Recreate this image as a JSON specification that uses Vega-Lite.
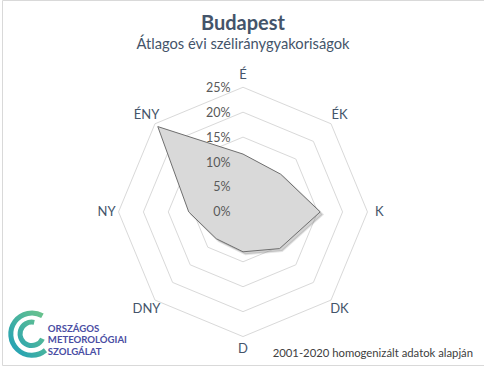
{
  "$schema": "https://vega.github.io/schema/vega-lite/v6.json",
  "width": 484,
  "height": 366,
  "autosize": {"type": "fit", "contains": "padding"},
  "padding": 0,
  "background": "#ffffff",
  "config": {
    "view": {"stroke": "#d9d9d9", "strokeWidth": 1},
    "font": "Lato"
  },
  "title": {
    "text": "Budapest",
    "subtitle": "Átlagos évi széliránygyakoriságok",
    "anchor": "middle",
    "frame": "group",
    "font": "Lato",
    "fontSize": 20,
    "fontWeight": "bold",
    "color": "#44546a",
    "subtitleFont": "Lato",
    "subtitleFontSize": 14.7,
    "subtitleColor": "#44546a",
    "subtitlePadding": 3,
    "offset": -52
  },
  "datasets": {
    "wind": [
      {"dir": "É", "deg": 0, "value": 0.116},
      {"dir": "ÉK", "deg": 45, "value": 0.107},
      {"dir": "K", "deg": 90, "value": 0.155},
      {"dir": "DK", "deg": 135, "value": 0.104},
      {"dir": "D", "deg": 180, "value": 0.080},
      {"dir": "DNY", "deg": 225, "value": 0.076},
      {"dir": "NY", "deg": 270, "value": 0.109},
      {"dir": "ÉNY", "deg": 315, "value": 0.242}
    ],
    "grid": [
      {"deg": 0, "rings": [0.05, 0.10, 0.15, 0.20, 0.25]},
      {"deg": 45, "rings": [0.05, 0.10, 0.15, 0.20, 0.25]},
      {"deg": 90, "rings": [0.05, 0.10, 0.15, 0.20, 0.25]},
      {"deg": 135, "rings": [0.05, 0.10, 0.15, 0.20, 0.25]},
      {"deg": 180, "rings": [0.05, 0.10, 0.15, 0.20, 0.25]},
      {"deg": 225, "rings": [0.05, 0.10, 0.15, 0.20, 0.25]},
      {"deg": 270, "rings": [0.05, 0.10, 0.15, 0.20, 0.25]},
      {"deg": 315, "rings": [0.05, 0.10, 0.15, 0.20, 0.25]}
    ]
  },
  "layer": [
    {
      "data": {"name": "grid"},
      "transform": [
        {"flatten": ["rings"], "as": ["ring"]},
        {"calculate": "datum.ring * sin(datum.deg * PI / 180)", "as": "gx"},
        {"calculate": "datum.ring * cos(datum.deg * PI / 180)", "as": "gy"}
      ],
      "mark": {"type": "line", "interpolate": "linear-closed", "stroke": "#d9d9d9", "strokeWidth": 1},
      "encoding": {
        "x": {"field": "gx", "type": "quantitative", "scale": {"domain": [-0.484, 0.484], "nice": false, "zero": false}, "axis": null},
        "y": {"field": "gy", "type": "quantitative", "scale": {"domain": [-0.307, 0.425], "nice": false, "zero": false},
              "axis": {"orient": "left", "zindex": 1, "values": [0, 0.05, 0.1, 0.15, 0.2, 0.25], "format": ".0%", "domain": false, "ticks": false, "tickSize": 0, "grid": false, "labelPadding": 0, "offset": -228, "labelFont": "Lato", "labelFontSize": 12.5, "labelColor": "#595959", "title": null}},
        "detail": {"field": "ring", "type": "nominal"},
        "order": {"field": "deg", "type": "quantitative"}
      }
    },
    {
      "data": {"name": "wind"},
      "transform": [
        {"calculate": "datum.value * sin(datum.deg * PI / 180) + 0.005", "as": "sx"},
        {"calculate": "datum.value * cos(datum.deg * PI / 180) - 0.005", "as": "sy"}
      ],
      "mark": {"type": "line", "interpolate": "linear-closed", "fill": "#7f7f7f", "fillOpacity": 0.35, "stroke": "#7f7f7f", "strokeOpacity": 0.2, "strokeWidth": 2},
      "encoding": {
        "x": {"field": "sx", "type": "quantitative"},
        "y": {"field": "sy", "type": "quantitative"},
        "order": {"field": "deg", "type": "quantitative"}
      }
    },
    {
      "data": {"name": "wind"},
      "transform": [
        {"calculate": "datum.value * sin(datum.deg * PI / 180)", "as": "px"},
        {"calculate": "datum.value * cos(datum.deg * PI / 180)", "as": "py"}
      ],
      "mark": {"type": "line", "interpolate": "linear-closed", "fill": "#d9d9d9", "stroke": "#6f6f6f", "strokeWidth": 1},
      "encoding": {
        "x": {"field": "px", "type": "quantitative"},
        "y": {"field": "py", "type": "quantitative"},
        "order": {"field": "deg", "type": "quantitative"}
      }
    },
    {
      "data": {"name": "wind"},
      "transform": [
        {"calculate": "0.274 * sin(datum.deg * PI / 180)", "as": "lx"},
        {"calculate": "0.274 * cos(datum.deg * PI / 180)", "as": "ly"}
      ],
      "mark": {"type": "text", "align": "center", "baseline": "middle", "font": "Lato", "fontSize": 13, "fill": "#44546a"},
      "encoding": {
        "x": {"field": "lx", "type": "quantitative"},
        "y": {"field": "ly", "type": "quantitative"},
        "text": {"field": "dir"}
      }
    },
    {
      "data": {"values": [{"note": "2001-2020 homogenizált adatok alapján"}]},
      "mark": {"type": "text", "align": "right", "baseline": "middle", "font": "Lato", "fontSize": 11.3, "fill": "#404040"},
      "encoding": {
        "x": {"datum": 0.462},
        "y": {"datum": -0.285},
        "text": {"field": "note"}
      }
    },
    {
      "data": {"values": [{"org": "ORSZÁGOS\nMETEOROLÓGIAI\nSZOLGÁLAT"}]},
      "mark": {"type": "text", "align": "left", "baseline": "middle", "lineBreak": "\n", "lineHeight": 11.5, "font": "Lato", "fontSize": 9.6, "fontWeight": "bold", "fill": "#4a4ea3"},
      "encoding": {
        "x": {"datum": -0.392},
        "y": {"datum": -0.234},
        "text": {"field": "org"}
      }
    },
    {
      "data": {"values": [{"logo": "OMSZ"}]},
      "mark": {
        "type": "point",
        "shape": "M 0.45 -0.78 A 0.9 0.9 0 1 0 0.58 0.69 M 0.1 -0.5 A 0.5 0.5 0 1 0 0.45 0.2",
        "size": 2200,
        "filled": false,
        "strokeWidth": 5,
        "opacity": 1,
        "stroke": {"gradient": "linear", "x1": 0, "y1": 1, "x2": 1, "y2": 0,
                   "stops": [{"offset": 0, "color": "#1e9fb8"}, {"offset": 1, "color": "#6cc48a"}]}
      },
      "encoding": {
        "x": {"datum": -0.424},
        "y": {"datum": -0.245}
      }
    }
  ]
}
